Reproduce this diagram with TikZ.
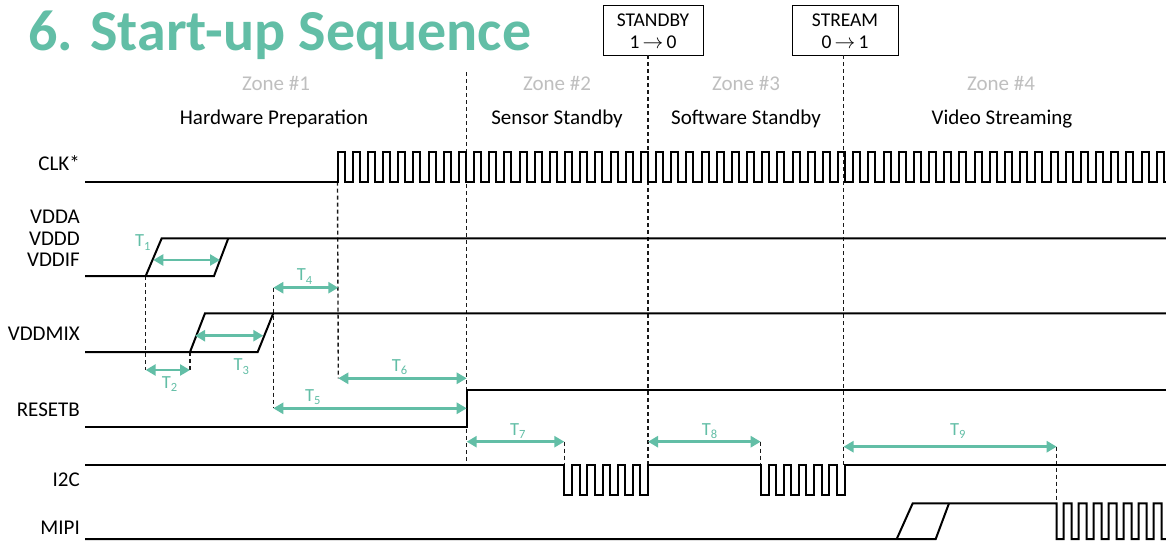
\documentclass[tikz,border=0pt]{standalone}
\usepackage{fontspec}
\setmainfont{Carlito}
\usetikzlibrary{arrows.meta}
\definecolor{tealc}{RGB}{98,190,166}
\definecolor{zonegray}{RGB}{191,191,191}
\newcommand{\tsub}[1]{T\raisebox{-3.5pt}{\fontsize{12.5}{12.5}\selectfont #1}}
\tikzset{
  sig/.style={line width=2pt, line join=miter, black},
  guide/.style={line width=1.4pt, dash pattern=on 4pt off 3pt, black!90},
  tarrow/.style={tealc, line width=2.5pt, {Triangle[length=10pt,width=11pt]}-{Triangle[length=10pt,width=11pt]}},
  siglabel/.style={anchor=base east, inner sep=0pt, font=\fontsize{21}{21}\selectfont},
  zonelabel/.style={anchor=base, inner sep=0pt, text=zonegray, font=\fontsize{21}{21}\selectfont},
  phaselabel/.style={anchor=base, inner sep=0pt, font=\fontsize{21}{21}\selectfont},
  tlab/.style={anchor=base west, inner sep=0pt, text=tealc, font=\fontsize{18.5}{18.5}\selectfont},
  regbox/.style={draw, line width=1pt, minimum height=50pt, inner sep=0pt},
  regtext/.style={anchor=base, inner sep=0pt, font=\fontsize{19.5}{19.5}\selectfont},
}
\begin{document}
\begin{tikzpicture}[x=1pt, y=-1pt]
\clip (0,0) rectangle (1166,541);
\useasboundingbox (0,0) rectangle (1166,541);
\fill[white] (0,0) rectangle (1166,541);

% title
\node[anchor=base west, inner sep=0pt, text=tealc, font=\fontsize{58}{58}\selectfont\bfseries] (title) at (28,50) {6. Start-up Sequence};

% register boxes
\node[regbox, minimum width=100pt] (sb) at (653,30) {};
\node[regtext] (sb1) at (653,26.5) {STANDBY};
\node[regtext] (sb2) at (653,48) {1\,$\rightarrow$\,0};
\node[regbox, minimum width=106pt] (st) at (845,30) {};
\node[regtext] (st1) at (845,26.5) {STREAM};
\node[regtext] (st2) at (845,48) {0\,$\rightarrow$\,1};

% zone texts
\node[zonelabel] (z1) at (276,90) {Zone \#1};
\node[zonelabel] (z2) at (557,90) {Zone \#2};
\node[zonelabel] (z3) at (746,90) {Zone \#3};
\node[zonelabel] (z4) at (1001,90) {Zone \#4};
\node[phaselabel] (p1) at (274,124) {Hardware Preparation};
\node[phaselabel] (p2) at (557,124) {Sensor Standby};
\node[phaselabel] (p3) at (746,124) {Software Standby};
\node[phaselabel] (p4) at (1002,124) {Video Streaming};

% signal labels
\node[siglabel] (lclk) at (80,170.7) {CLK*};
\node[siglabel] (lvdda) at (80,223.3) {VDDA};
\node[siglabel] (lvddd) at (80,245) {VDDD};
\node[siglabel] (lvddif) at (80,266.5) {VDDIF};
\node[siglabel] (lmix) at (80,340.7) {VDDMIX};
\node[siglabel] (lrst) at (80,416) {RESETB};
\node[siglabel] (li2c) at (80,486) {I2C};
\node[siglabel] (lmipi) at (80,534) {MIPI};

% key coordinates
\coordinate (z12top) at (466.7,72);
\coordinate (z12bot) at (466.7,465);
\coordinate (z23top) at (648,55);
\coordinate (z23bot) at (648,465);
\coordinate (z34top) at (843.5,55);
\coordinate (z34bot) at (843.5,465);
\coordinate (clkrise) at (337.5,181.7);
\coordinate (vddarise) at (145.7,276);
\coordinate (mixrise) at (190,352);
\coordinate (mixtop) at (273.3,313.3);
\coordinate (i2cA) at (564.3,465);
\coordinate (i2cB) at (760.7,465);
\coordinate (mipiA) at (1056.7,503.3);

\coordinate (t1a) at (153.3,260);   \coordinate (t1b) at (220,260);
\coordinate (t2a) at (145.7,370);   \coordinate (t2b) at (190,370);
\coordinate (t3a) at (195,335.7);   \coordinate (t3b) at (263.3,335.7);
\coordinate (t4a) at (273.3,287.7); \coordinate (t4b) at (338.3,287.7);
\coordinate (t5a) at (273.3,408.3); \coordinate (t5b) at (466.7,408.3);
\coordinate (t6a) at (338.3,378.3); \coordinate (t6b) at (466.7,378.3);
\coordinate (t7a) at (466.7,441.7); \coordinate (t7b) at (564.3,441.7);
\coordinate (t8a) at (648,441.7);   \coordinate (t8b) at (760.7,441.7);
\coordinate (t9a) at (843.5,446.7); \coordinate (t9b) at (1056.7,446.7);

% dashed guides
\draw[guide] (z12top) -- (z12bot);
\draw[guide] (z23top) -- (z23bot);
\draw[guide] (z34top) -- (z34bot);
\draw[guide] (clkrise) -- (t6a);
\draw[guide] (vddarise) -- (t2a);
\draw[guide] (mixrise) -- (t2b);
\draw[guide] (t4a) -- (t5a);
\draw[guide] (t7b) -- (i2cA);
\draw[guide] (t8b) -- (i2cB);
\draw[guide] (t9b) -- (mipiA);

% CLK
\draw[sig] (85,181.7) -- (clkrise)
  \foreach \i in {1,...,56} { -- ++(0,-29.4) -- ++(7,0) -- ++(0,29.4) -- ++(8.17,0) };

% VDDA / VDDD / VDDIF
\draw[sig] (85,276) -- (214,276) -- (228.3,238.3);
\draw[sig] (vddarise) -- (161.7,238.3) -- (1170,238.3);

% VDDMIX
\draw[sig] (85,352) -- (257.7,352) -- (mixtop);
\draw[sig] (mixrise) -- (205,313.3) -- (1170,313.3);

% RESETB
\draw[sig] (85,426.7) -- (466.7,426.7) -- (466.7,390) -- (1170,390);

% I2C
\draw[sig] (85,465) -- (i2cA)
  \foreach \i in {1,...,5} { -- ++(0,30) -- ++(7.8,0) -- ++(0,-30) -- ++(7.4,0) }
  -- ++(0,30) -- ++(7.8,0) -- ++(0,-30) -- (i2cB)
  \foreach \i in {1,...,5} { -- ++(0,30) -- ++(7.8,0) -- ++(0,-30) -- ++(7.4,0) }
  -- ++(0,30) -- ++(7.8,0) -- ++(0,-30) -- (1170,465);

% MIPI
\draw[sig] (85,539) -- (935.7,539) -- (949,503.3);
\draw[sig] (896.7,539) -- (912.7,503.3) -- (mipiA)
  \foreach \i in {1,...,8} { -- ++(0,35.7) -- ++(7,0) -- ++(0,-35.7) -- ++(8,0) };

% timing arrows
\draw[tarrow] (t1a) -- (t1b);
\draw[tarrow] (t2a) -- (t2b);
\draw[tarrow] (t3a) -- (t3b);
\draw[tarrow] (t4a) -- (t4b);
\draw[tarrow] (t5a) -- (t5b);
\draw[tarrow] (t6a) -- (t6b);
\draw[tarrow] (t7a) -- (t7b);
\draw[tarrow] (t8a) -- (t8b);
\draw[tarrow] (t9a) -- (t9b);

% timing labels
\node[tlab] (lt1) at (135,246.7) {\tsub{1}};
\node[tlab] (lt2) at (161.7,388.3) {\tsub{2}};
\node[tlab] (lt3) at (233.3,370.7) {\tsub{3}};
\node[tlab] (lt4) at (296.7,280.7) {\tsub{4}};
\node[tlab] (lt5) at (305,401) {\tsub{5}};
\node[tlab] (lt6) at (391.7,371) {\tsub{6}};
\node[tlab] (lt7) at (510,435) {\tsub{7}};
\node[tlab] (lt8) at (701.7,435) {\tsub{8}};
\node[tlab] (lt9) at (950,435) {\tsub{9}};
\end{tikzpicture}
\end{document}
